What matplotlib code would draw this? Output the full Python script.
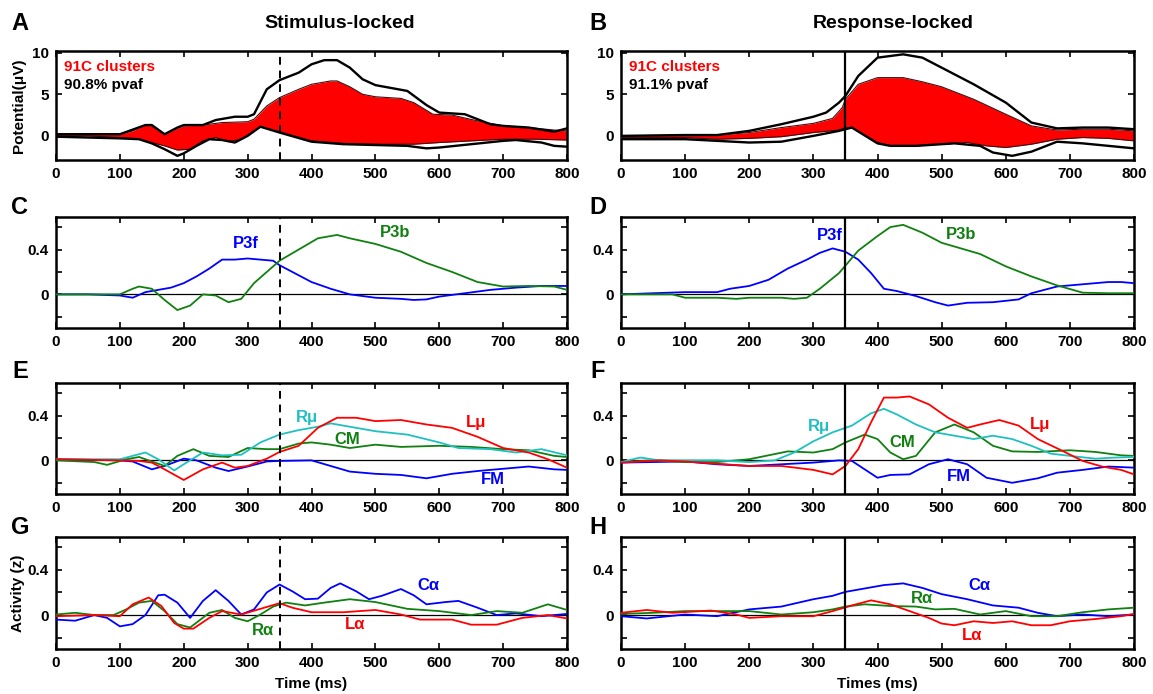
import matplotlib
matplotlib.use("Agg")
import matplotlib.pyplot as plt
import numpy as np

plt.rcParams['font.family'] = ['Liberation Sans', 'DejaVu Sans']
plt.rcParams['font.weight'] = 'bold'

# ---------------- Panel A (stimulus-locked potentials) ----------------
a_up_t = [0, 100, 140, 150, 170, 190, 200, 230, 250, 280, 300, 310, 330, 350, 380, 400, 420, 440, 460, 480, 500, 550, 580, 600, 640, 680, 700, 740, 780, 800]
a_up_v = [0.2, 0.2, 1.3, 1.3, 0.2, 1.0, 1.3, 1.3, 1.9, 2.3, 2.3, 2.6, 5.6, 6.7, 7.6, 8.6, 9.1, 9.1, 8.2, 6.8, 6.1, 5.4, 3.7, 2.8, 2.6, 1.4, 1.2, 1.0, 0.5, 0.9]
a_rtop_t = [0, 100, 120, 140, 150, 170, 190, 200, 230, 260, 300, 310, 330, 350, 380, 400, 430, 440, 460, 480, 500, 540, 560, 590, 620, 660, 700, 740, 780, 800]
a_rtop_v = [0.2, 0.2, 0.6, 1.3, 1.2, 0.2, 0.9, 1.2, 1.3, 1.6, 1.7, 2.0, 3.6, 4.6, 5.6, 6.2, 6.6, 6.6, 5.9, 5.0, 4.7, 4.5, 4.0, 2.6, 2.5, 1.8, 1.2, 1.0, 0.7, 0.6]
a_rbot_t = [0, 50, 100, 130, 150, 170, 190, 210, 230, 250, 270, 290, 310, 320, 350, 400, 450, 500, 560, 600, 650, 700, 750, 800]
a_rbot_v = [0.0, 0.0, -0.2, -0.4, -0.8, -1.2, -1.7, -1.6, -0.6, -0.2, -0.7, -0.4, 0.6, 1.1, 0.5, -0.6, -0.9, -1.0, -1.0, -0.8, -0.6, -0.4, -0.4, -0.5]
a_lo_t = [0, 100, 130, 150, 170, 190, 200, 220, 240, 260, 280, 300, 320, 350, 400, 450, 500, 550, 580, 600, 650, 700, 720, 760, 780, 800]
a_lo_v = [-0.1, -0.3, -0.4, -0.9, -1.6, -2.4, -2.1, -1.2, -0.4, -0.5, -0.8, 0.0, 1.1, 0.4, -0.7, -1.0, -1.1, -1.2, -1.5, -1.4, -1.0, -0.6, -0.5, -0.8, -1.2, -1.3]

# ---------------- Panel B (response-locked potentials) ----------------
b_up_t = [0, 100, 150, 200, 250, 300, 320, 340, 350, 370, 400, 440, 470, 500, 550, 600, 640, 680, 720, 760, 800]
b_up_v = [0.0, 0.1, 0.1, 0.6, 1.4, 2.3, 2.8, 4.0, 4.8, 7.2, 9.4, 9.8, 9.4, 8.2, 6.2, 4.0, 1.6, 0.9, 1.0, 1.0, 0.8]
b_rtop_t = [0, 100, 150, 200, 250, 300, 330, 345, 350, 370, 400, 440, 470, 500, 550, 600, 640, 680, 720, 760, 800]
b_rtop_v = [0.0, 0.1, 0.1, 0.4, 1.0, 1.5, 2.1, 3.4, 4.4, 6.2, 7.0, 7.0, 6.5, 5.9, 4.4, 2.6, 1.2, 0.7, 0.8, 0.8, 0.6]
b_rbot_t = [0, 100, 150, 200, 250, 300, 340, 350, 360, 400, 420, 460, 500, 540, 570, 600, 640, 680, 720, 760, 800]
b_rbot_v = [-0.2, -0.2, -0.4, -0.3, -0.1, 0.4, 0.7, 1.0, 1.0, -0.8, -1.2, -1.2, -1.0, -0.8, -1.2, -1.4, -1.0, -0.4, -0.2, -0.3, -0.6]
b_lo_t = [0, 100, 150, 200, 250, 300, 340, 350, 360, 400, 420, 460, 520, 560, 580, 610, 640, 680, 720, 760, 800]
b_lo_v = [-0.4, -0.4, -0.6, -0.8, -0.7, 0.0, 0.6, 0.8, 1.0, -0.9, -1.2, -1.2, -0.9, -1.2, -2.0, -2.4, -1.9, -0.7, -0.9, -1.2, -1.5]

# ---------------- Panel C ----------------
c_p3f_t = [0, 50, 100, 120, 140, 160, 180, 200, 220, 240, 260, 280, 300, 320, 340, 350, 370, 400, 430, 460, 500, 540, 560, 580, 600, 640, 680, 720, 760, 800]
c_p3f_v = [0.0, 0.0, -0.01, -0.03, 0.02, 0.04, 0.06, 0.10, 0.16, 0.23, 0.31, 0.31, 0.32, 0.31, 0.30, 0.26, 0.20, 0.11, 0.05, 0.0, -0.03, -0.04, -0.05, -0.045, -0.02, 0.01, 0.04, 0.06, 0.075, 0.075]
c_p3b_t = [0, 60, 100, 120, 130, 150, 170, 190, 210, 230, 250, 270, 290, 310, 330, 350, 380, 410, 440, 460, 500, 540, 580, 620, 660, 700, 740, 780, 800]
c_p3b_v = [0.0, 0.0, 0.0, 0.05, 0.07, 0.05, -0.05, -0.14, -0.10, 0.0, -0.01, -0.07, -0.04, 0.10, 0.20, 0.30, 0.40, 0.50, 0.53, 0.50, 0.45, 0.38, 0.28, 0.20, 0.11, 0.07, 0.075, 0.07, 0.04]

# ---------------- Panel D ----------------
d_p3f_t = [0, 50, 100, 150, 170, 200, 230, 260, 290, 310, 330, 350, 370, 390, 410, 430, 460, 490, 510, 540, 580, 620, 640, 680, 720, 760, 780, 800]
d_p3f_v = [0.0, 0.01, 0.02, 0.02, 0.05, 0.075, 0.13, 0.23, 0.31, 0.37, 0.41, 0.38, 0.31, 0.19, 0.05, 0.03, -0.015, -0.07, -0.10, -0.075, -0.07, -0.045, 0.01, 0.07, 0.09, 0.11, 0.11, 0.10]
d_p3b_t = [0, 80, 100, 150, 180, 200, 250, 270, 290, 310, 340, 370, 400, 420, 440, 470, 500, 530, 560, 600, 640, 680, 720, 760, 800]
d_p3b_v = [0.0, 0.0, -0.03, -0.03, -0.04, -0.03, -0.03, -0.04, -0.03, 0.05, 0.19, 0.39, 0.52, 0.60, 0.62, 0.55, 0.46, 0.41, 0.36, 0.25, 0.16, 0.08, 0.015, 0.01, 0.01]

# ---------------- Panel E ----------------
e_rmu_t = [0, 100, 120, 140, 160, 185, 200, 230, 260, 290, 320, 350, 380, 410, 430, 450, 500, 550, 600, 630, 680, 720, 760, 800]
e_rmu_v = [0.01, 0.01, 0.04, 0.07, 0.01, -0.09, -0.035, 0.07, 0.045, 0.05, 0.16, 0.23, 0.27, 0.30, 0.33, 0.31, 0.26, 0.23, 0.16, 0.11, 0.10, 0.07, 0.10, 0.045]
e_lmu_t = [0, 100, 130, 150, 170, 200, 230, 260, 280, 300, 330, 350, 380, 410, 440, 470, 500, 540, 580, 620, 660, 700, 740, 770, 800]
e_lmu_v = [0.01, 0.0, -0.005, -0.02, -0.08, -0.175, -0.08, -0.02, -0.065, -0.05, 0.015, 0.075, 0.13, 0.29, 0.38, 0.38, 0.35, 0.36, 0.32, 0.29, 0.21, 0.11, 0.07, 0.01, -0.065]
e_cm_t = [0, 60, 80, 110, 130, 170, 190, 215, 240, 270, 300, 330, 350, 380, 400, 430, 460, 500, 540, 600, 650, 700, 740, 780, 800]
e_cm_v = [0.0, -0.015, -0.04, 0.01, 0.03, -0.05, 0.04, 0.10, 0.04, 0.03, 0.11, 0.10, 0.10, 0.15, 0.16, 0.14, 0.11, 0.14, 0.12, 0.13, 0.12, 0.10, 0.09, 0.04, 0.03]
e_fm_t = [0, 100, 120, 150, 170, 200, 220, 250, 270, 300, 330, 350, 400, 430, 460, 500, 540, 580, 620, 660, 700, 740, 780, 800]
e_fm_v = [0.01, 0.0, -0.01, -0.08, -0.05, 0.015, 0.0, -0.065, -0.095, -0.055, -0.01, -0.005, 0.0, -0.05, -0.10, -0.12, -0.13, -0.16, -0.12, -0.095, -0.075, -0.055, -0.08, -0.085]

# ---------------- Panel F ----------------
f_rmu_t = [0, 30, 60, 100, 150, 200, 240, 270, 300, 330, 360, 390, 410, 430, 460, 490, 520, 550, 580, 610, 640, 670, 700, 740, 770, 800]
f_rmu_v = [-0.015, 0.025, 0.0, 0.0, 0.0, -0.015, 0.0, 0.07, 0.17, 0.25, 0.31, 0.42, 0.46, 0.41, 0.32, 0.25, 0.22, 0.19, 0.22, 0.19, 0.13, 0.06, 0.04, 0.015, 0.025, 0.03]
f_lmu_t = [0, 60, 100, 150, 200, 250, 300, 330, 350, 370, 390, 410, 430, 450, 480, 510, 540, 560, 590, 620, 650, 690, 720, 750, 780, 800]
f_lmu_v = [-0.02, 0.0, -0.01, -0.03, -0.05, -0.05, -0.085, -0.125, -0.05, 0.10, 0.34, 0.56, 0.56, 0.57, 0.50, 0.38, 0.29, 0.32, 0.36, 0.31, 0.19, 0.08, -0.005, -0.055, -0.085, -0.125]
f_cm_t = [0, 50, 100, 150, 200, 230, 260, 300, 330, 350, 380, 400, 420, 440, 460, 490, 520, 550, 580, 610, 650, 700, 740, 780, 800]
f_cm_v = [-0.015, 0.0, -0.015, -0.015, 0.01, 0.045, 0.08, 0.07, 0.10, 0.16, 0.23, 0.19, 0.07, 0.01, 0.04, 0.25, 0.32, 0.25, 0.13, 0.08, 0.075, 0.09, 0.075, 0.045, 0.04]
f_fm_t = [0, 100, 150, 200, 250, 300, 340, 360, 380, 400, 420, 450, 480, 510, 540, 570, 610, 650, 680, 720, 760, 800]
f_fm_v = [-0.02, -0.01, -0.035, -0.05, -0.035, -0.02, 0.0, -0.005, -0.08, -0.155, -0.13, -0.125, -0.035, 0.01, -0.035, -0.155, -0.20, -0.16, -0.11, -0.085, -0.055, -0.065]

# ---------------- Panel G ----------------
g_ca_t = [0, 30, 60, 80, 100, 120, 140, 160, 170, 190, 210, 230, 250, 270, 290, 310, 330, 350, 370, 390, 410, 430, 445, 470, 490, 510, 540, 560, 580, 610, 630, 660, 690, 720, 760, 800]
g_ca_v = [-0.04, -0.05, 0.0, -0.025, -0.10, -0.08, 0.0, 0.175, 0.18, 0.11, -0.025, 0.125, 0.22, 0.125, 0.005, 0.05, 0.20, 0.27, 0.21, 0.14, 0.145, 0.24, 0.28, 0.21, 0.14, 0.17, 0.23, 0.175, 0.095, 0.115, 0.125, 0.065, 0.0, 0.015, -0.01, 0.01]
g_ra_t = [0, 30, 60, 90, 110, 130, 150, 170, 190, 210, 240, 260, 280, 300, 320, 340, 360, 390, 420, 460, 500, 550, 600, 650, 690, 730, 770, 800]
g_ra_v = [0.005, 0.02, 0.0, 0.0, 0.05, 0.11, 0.125, 0.035, -0.08, -0.11, 0.02, 0.045, -0.025, -0.055, 0.005, 0.075, 0.11, 0.085, 0.11, 0.14, 0.115, 0.055, 0.035, 0.0, 0.035, 0.02, 0.095, 0.045]
g_la_t = [0, 60, 100, 120, 145, 165, 185, 200, 215, 240, 260, 290, 320, 350, 370, 400, 450, 500, 540, 570, 620, 650, 690, 730, 770, 800]
g_la_v = [-0.01, 0.0, -0.01, 0.095, 0.155, 0.08, -0.07, -0.12, -0.12, -0.025, 0.035, 0.005, 0.055, 0.105, 0.065, 0.025, 0.025, 0.045, 0.005, -0.04, -0.04, -0.085, -0.085, -0.025, 0.0, -0.03]

# ---------------- Panel H ----------------
h_ca_t = [0, 40, 100, 150, 200, 250, 300, 330, 350, 380, 410, 440, 470, 500, 540, 580, 620, 650, 680, 720, 760, 800]
h_ca_v = [-0.01, -0.03, 0.005, -0.01, 0.05, 0.075, 0.14, 0.17, 0.205, 0.235, 0.265, 0.28, 0.24, 0.185, 0.14, 0.085, 0.065, 0.02, -0.01, 0.005, -0.01, 0.005]
h_ra_t = [0, 50, 100, 150, 200, 250, 300, 330, 350, 380, 420, 460, 490, 520, 560, 600, 640, 680, 720, 760, 800]
h_ra_v = [0.01, 0.02, 0.035, 0.035, 0.035, 0.005, 0.025, 0.05, 0.075, 0.095, 0.08, 0.075, 0.05, 0.055, 0.005, 0.035, -0.01, -0.01, 0.025, 0.05, 0.065]
h_la_t = [0, 40, 80, 140, 180, 200, 250, 300, 330, 360, 390, 420, 450, 480, 500, 520, 550, 580, 610, 640, 670, 700, 740, 780, 800]
h_la_v = [0.02, 0.045, 0.02, 0.04, 0.005, -0.025, -0.01, -0.01, 0.035, 0.085, 0.13, 0.095, 0.035, -0.025, -0.075, -0.09, -0.055, -0.07, -0.055, -0.09, -0.09, -0.055, -0.035, -0.01, 0.01]

xticks = [0, 100, 200, 300, 400, 500, 600, 700, 800]
event_ms = 350

BLUE = '#0000ff'
GREEN = '#108010'
RED = '#ff0000'
CYAN = '#20c0c0'

W, H = 1153, 694
fig = plt.figure(figsize=(W / 100, H / 100), dpi=100)

def ax_at(x0, y0, x1, y1):
    return fig.add_axes([x0 / W, 1 - y1 / H, (x1 - x0) / W, (y1 - y0) / H])

lefts = (56, 567)
rights = (621, 1134)
rows = [(51, 160), (217, 328), (383, 494), (537, 649)]

def style(ax, pot=False):
    ax.set_xlim(0, 800)
    ax.set_xticks(xticks)
    ax.set_xticklabels([str(t) for t in xticks], fontsize=11, fontweight='bold')
    if pot:
        ax.set_ylim(-2.9, 10.2)
        ax.set_yticks([0, 5, 10])
        ax.set_yticklabels(['0', '5', '10'], fontsize=11, fontweight='bold')
    else:
        ax.set_ylim(-0.3, 0.69)
        ax.set_yticks([-0.2, 0, 0.2, 0.4, 0.6])
        ax.set_yticklabels(['', '0', '', '0.4', ''], fontsize=11, fontweight='bold')
        ax.axhline(0, color='black', lw=0.9, zorder=1)
    ax.tick_params(direction='in', top=True, right=True, length=4, width=1.2, pad=5)
    for s in ax.spines.values():
        s.set_linewidth(1.8)

def vline(ax, dashed):
    if dashed:
        ax.axvline(event_ms, color='black', lw=1.4, ls=(0, (4, 3)), zorder=5)
    else:
        ax.axvline(event_ms, color='black', lw=1.6, zorder=5)

lbl = dict(fontsize=12, fontweight='bold', ha='center', va='center')

# Row 1
axA = ax_at(lefts[0], rows[0][0], lefts[1], rows[0][1])
axB = ax_at(rights[0], rows[0][0], rights[1], rows[0][1])
for ax, (ut, uv, rt, rv, bt, bv, lt, lv), dashed, pv in [
        (axA, (a_up_t, a_up_v, a_rtop_t, a_rtop_v, a_rbot_t, a_rbot_v, a_lo_t, a_lo_v), True, '90.8% pvaf'),
        (axB, (b_up_t, b_up_v, b_rtop_t, b_rtop_v, b_rbot_t, b_rbot_v, b_lo_t, b_lo_v), False, '91.1% pvaf')]:
    style(ax, pot=True)
    grid = np.arange(0, 801, 2)
    top = np.interp(grid, rt, rv)
    bot = np.interp(grid, bt, bv)
    ax.fill_between(grid, bot, top, color=RED, lw=0, zorder=2)
    ax.plot(rt, rv, color='#401010', lw=0.8, zorder=3)
    ax.plot(bt, bv, color='#401010', lw=0.8, zorder=3)
    ax.plot(ut, uv, color='black', lw=1.7, zorder=4)
    ax.plot(lt, lv, color='black', lw=1.7, zorder=4)
    vline(ax, dashed)
    ax.text(12, 8.3, '91C clusters', color=RED, fontsize=11, fontweight='bold', ha='left', va='center')
    ax.text(12, 6.1, pv, color='black', fontsize=11, fontweight='bold', ha='left', va='center')
axA.set_ylabel('Potential(μV)', fontsize=11, fontweight='bold', labelpad=4)

# Row 2
axC = ax_at(lefts[0], rows[1][0], lefts[1], rows[1][1])
axD = ax_at(rights[0], rows[1][0], rights[1], rows[1][1])
style(axC); style(axD)
axC.plot(c_p3f_t, c_p3f_v, color=BLUE, lw=1.3, zorder=3)
axC.plot(c_p3b_t, c_p3b_v, color=GREEN, lw=1.3, zorder=3)
vline(axC, True)
axC.text(297, 0.45, 'P3f', color=BLUE, **lbl)
axC.text(531, 0.55, 'P3b', color=GREEN, **lbl)
axD.plot(d_p3f_t, d_p3f_v, color=BLUE, lw=1.3, zorder=3)
axD.plot(d_p3b_t, d_p3b_v, color=GREEN, lw=1.3, zorder=3)
vline(axD, False)
axD.text(326, 0.525, 'P3f', color=BLUE, **lbl)
axD.text(530, 0.535, 'P3b', color=GREEN, **lbl)

# Row 3
axE = ax_at(lefts[0], rows[2][0], lefts[1], rows[2][1])
axF = ax_at(rights[0], rows[2][0], rights[1], rows[2][1])
style(axE); style(axF)
for ax, series in [(axE, [(e_fm_t, e_fm_v, BLUE), (e_cm_t, e_cm_v, GREEN), (e_rmu_t, e_rmu_v, CYAN), (e_lmu_t, e_lmu_v, RED)]),
                   (axF, [(f_fm_t, f_fm_v, BLUE), (f_cm_t, f_cm_v, GREEN), (f_rmu_t, f_rmu_v, CYAN), (f_lmu_t, f_lmu_v, RED)])]:
    for t, v, c in series:
        ax.plot(t, v, color=c, lw=1.3, zorder=3)
vline(axE, True); vline(axF, False)
axE.text(393, 0.38, 'Rμ', color=CYAN, **lbl)
axE.text(456, 0.19, 'CM', color=GREEN, **lbl)
axE.text(658, 0.34, 'Lμ', color=RED, **lbl)
axE.text(684, -0.17, 'FM', color=BLUE, **lbl)
axF.text(308, 0.30, 'Rμ', color=CYAN, **lbl)
axF.text(439, 0.16, 'CM', color=GREEN, **lbl)
axF.text(654, 0.32, 'Lμ', color=RED, **lbl)
axF.text(527, -0.14, 'FM', color=BLUE, **lbl)

# Row 4
axG = ax_at(lefts[0], rows[3][0], lefts[1], rows[3][1])
axH = ax_at(rights[0], rows[3][0], rights[1], rows[3][1])
style(axG); style(axH)
for ax, series in [(axG, [(g_ca_t, g_ca_v, BLUE), (g_ra_t, g_ra_v, GREEN), (g_la_t, g_la_v, RED)]),
                   (axH, [(h_ca_t, h_ca_v, BLUE), (h_ra_t, h_ra_v, GREEN), (h_la_t, h_la_v, RED)])]:
    for t, v, c in series:
        ax.plot(t, v, color=c, lw=1.3, zorder=3)
vline(axG, True); vline(axH, False)
axG.text(583, 0.26, 'Cα', color=BLUE, **lbl)
axG.text(324, -0.135, 'Rα', color=GREEN, **lbl)
axG.text(468, -0.085, 'Lα', color=RED, **lbl)
axH.text(559, 0.26, 'Cα', color=BLUE, **lbl)
axH.text(470, 0.15, 'Rα', color=GREEN, **lbl)
axH.text(548, -0.18, 'Lα', color=RED, **lbl)
axG.set_ylabel('Activity (z)', fontsize=11, fontweight='bold', labelpad=2)
axG.set_xlabel('Time (ms)', fontsize=11, fontweight='bold', labelpad=5)
axH.set_xlabel('Times (ms)', fontsize=11, fontweight='bold', labelpad=5)

# Panel letters and column titles
for letter, x, y in [('A', 20, 23), ('B', 598, 23), ('C', 20, 207), ('D', 598, 207),
                     ('E', 20, 372), ('F', 598, 372), ('G', 20, 528), ('H', 598, 528)]:
    fig.text(x / W, 1 - y / H, letter, fontsize=17, fontweight='bold', ha='center', va='center')
fig.text(340 / W, 1 - 23 / H, 'Stimulus-locked', fontsize=14, fontweight='bold', ha='center', va='center')
fig.text(893 / W, 1 - 23 / H, 'Response-locked', fontsize=14, fontweight='bold', ha='center', va='center')

fig.savefig('out.png', dpi=100)
